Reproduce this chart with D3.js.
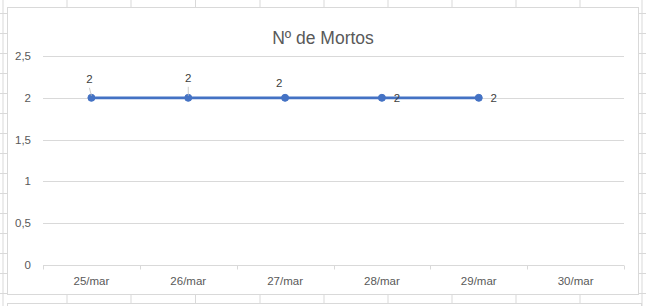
<!DOCTYPE html>
<html>
<head>
<meta charset="utf-8">
<script src="https://cdn.jsdelivr.net/npm/d3@7"></script>
<style>
  body { margin: 0; background: #fff; }
  svg text { font-family: "Liberation Sans", Arial, sans-serif; fill: #595959; }
</style>
</head>
<body>
<svg id="chart" width="646" height="306"></svg>
<script>
'use strict';

// chart data
var categories = ["25/mar", "26/mar", "27/mar", "28/mar", "29/mar", "30/mar"];
var deaths = [2, 2, 2, 2, 2, null];
var yTicks = [0, 0.5, 1, 1.5, 2, 2.5];
var yTickLabels = ["0", "0,5", "1", "1,5", "2", "2,5"];
var title = "Nº de Mortos";

// where excel left the data labels (offset from the point), and which have a leader line
var labelOffsets = [[-2, -15], [0, -16], [-6, -11], [15, 4], [15, 4]];
var hasLeader = [true, true, false, false, false];

var svg = d3.select("#chart");
var grid = "#d9d9d9";

// spreadsheet cells behind the chart
var colLines = [3, 67, 131, 195.5, 260, 324, 388, 452, 516, 580, 642];
var rowLines = d3.range(13.5, 306, 20);
svg.selectAll("line.col").data(colLines).enter().append("line")
   .attr("x1", d => d).attr("x2", d => d).attr("y1", 0).attr("y2", 306)
   .attr("stroke", grid);
svg.selectAll("line.row").data(rowLines).enter().append("line")
   .attr("x1", 0).attr("x2", 646).attr("y1", d => d).attr("y2", d => d)
   .attr("stroke", grid);

// next chart box peeking in at the bottom
svg.append("rect").attr("x", 7.5).attr("y", 303.5).attr("width", 634).attr("height", 20)
   .attr("fill", "#fff").attr("stroke", grid);

// chart box
svg.append("rect").attr("x", 7.5).attr("y", 7.5).attr("width", 631).attr("height", 287)
   .attr("fill", "#fff").attr("stroke", grid);

var x = d3.scaleBand().domain(categories).range([43, 624]);
var y = d3.scaleLinear().domain([0, 2.5]).range([265, 56]);

// horizontal gridlines
svg.append("g").selectAll("line").data(yTicks.slice(1)).enter().append("line")
   .attr("x1", 43).attr("x2", 624)
   .attr("y1", d => Math.round(y(d)) + 0.5).attr("y2", d => Math.round(y(d)) + 0.5)
   .attr("stroke", grid);

// y labels
svg.append("g").selectAll("text").data(yTicks).enter().append("text")
   .attr("x", 31).attr("y", d => y(d) + 4)
   .attr("text-anchor", "end").attr("font-size", 11.5)
   .text((d, i) => yTickLabels[i]);

// x axis
var xAxis = svg.append("g").attr("transform", "translate(0," + (Math.round(y(0)) + 0.5) + ")");
xAxis.append("line").attr("x1", 43).attr("x2", 624).attr("stroke", grid);
xAxis.selectAll("line.tick").data(categories.concat([null])).enter().append("line")
     .attr("x1", (d, i) => Math.round(43 + i * x.step()) + 0.5)
     .attr("x2", (d, i) => Math.round(43 + i * x.step()) + 0.5)
     .attr("y1", 0).attr("y2", 4).attr("stroke", grid);
xAxis.selectAll("text").data(categories).enter().append("text")
     .attr("x", d => x(d) + x.bandwidth() / 2).attr("y", 19)
     .attr("text-anchor", "middle").attr("font-size", 11.5)
     .text(d => d);

// title
svg.append("text").attr("x", 323).attr("y", 44)
   .attr("text-anchor", "middle").attr("font-size", 17.5)
   .text(title);

// series
var points = deaths.map((v, i) => ({cat: categories[i], v: v, i: i})).filter(d => d.v !== null);
var cx = d => x(d.cat) + x.bandwidth() / 2;

svg.append("path").datum(points)
   .attr("d", d3.line().x(cx).y(d => y(d.v)))
   .attr("fill", "none").attr("stroke", "#4472c4").attr("stroke-width", 2.8)
   .attr("stroke-linecap", "round");

svg.append("g").selectAll("circle").data(points).enter().append("circle")
   .attr("cx", cx).attr("cy", d => y(d.v)).attr("r", 3.5)
   .attr("fill", "#4472c4").attr("stroke", "#4472c4").attr("stroke-width", 1);

// leader lines + data labels
svg.append("g").selectAll("line").data(points.filter(d => hasLeader[d.i])).enter().append("line")
   .attr("x1", d => cx(d) + labelOffsets[d.i][0]).attr("y1", d => y(d.v) + labelOffsets[d.i][1] + 5)
   .attr("x2", cx).attr("y2", d => y(d.v) - 2)
   .attr("stroke", "#bfbfbf").attr("stroke-width", 0.8);

svg.append("g").selectAll("text").data(points).enter().append("text")
   .attr("x", d => cx(d) + labelOffsets[d.i][0])
   .attr("y", d => y(d.v) + labelOffsets[d.i][1])
   .attr("text-anchor", "middle").attr("font-size", 11.5)
   .style("fill", "#404040")
   .text(d => d.v);
</script>
</body>
</html>
